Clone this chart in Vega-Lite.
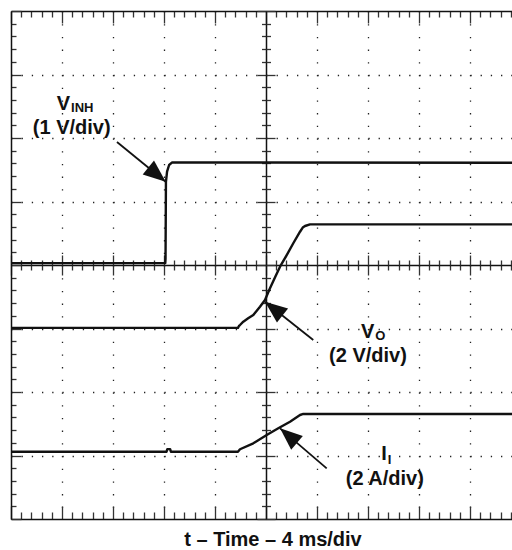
{
  "$schema": "https://vega.github.io/schema/vega-lite/v6.json",
  "width": 501,
  "height": 508,
  "autosize": "none",
  "padding": {"left": 11, "top": 11, "right": 0, "bottom": 31},
  "background": "white",
  "config": {
    "view": {"stroke": null},
    "axis": {
      "labels": false,
      "title": null,
      "grid": false,
      "domainColor": "#111",
      "domainWidth": 1.5,
      "tickColor": "#333",
      "tickWidth": 1.3
    }
  },
  "datasets": {
    "traces": [
      {"series": "VINH", "x": 0, "y": 4.03},
      {"series": "VINH", "x": 3.025, "y": 4.03},
      {"series": "VINH", "x": 3.03, "y": 4.1},
      {"series": "VINH", "x": 3.038, "y": 5.31},
      {"series": "VINH", "x": 3.06, "y": 5.47},
      {"series": "VINH", "x": 3.1, "y": 5.575},
      {"series": "VINH", "x": 3.16, "y": 5.615},
      {"series": "VINH", "x": 9.83, "y": 5.61},
      {"series": "VO", "x": 0, "y": 3.01},
      {"series": "VO", "x": 4.45, "y": 3.01},
      {"series": "VO", "x": 4.47, "y": 3.04},
      {"series": "VO", "x": 4.49, "y": 3.055},
      {"series": "VO", "x": 4.555, "y": 3.107},
      {"series": "VO", "x": 4.65, "y": 3.16},
      {"series": "VO", "x": 4.751, "y": 3.213},
      {"series": "VO", "x": 4.882, "y": 3.343},
      {"series": "VO", "x": 4.98, "y": 3.449},
      {"series": "VO", "x": 5.078, "y": 3.633},
      {"series": "VO", "x": 5.18, "y": 3.81},
      {"series": "VO", "x": 5.275, "y": 3.973},
      {"series": "VO", "x": 5.406, "y": 4.157},
      {"series": "VO", "x": 5.535, "y": 4.342},
      {"series": "VO", "x": 5.667, "y": 4.524},
      {"series": "VO", "x": 5.72, "y": 4.59},
      {"series": "VO", "x": 5.765, "y": 4.614},
      {"series": "VO", "x": 5.863, "y": 4.64},
      {"series": "VO", "x": 9.83, "y": 4.64},
      {"series": "II", "x": 0, "y": 1.06},
      {"series": "II", "x": 3.05, "y": 1.06},
      {"series": "II", "x": 3.065, "y": 1.1},
      {"series": "II", "x": 3.12, "y": 1.1},
      {"series": "II", "x": 3.135, "y": 1.06},
      {"series": "II", "x": 4.45, "y": 1.06},
      {"series": "II", "x": 4.49, "y": 1.098},
      {"series": "II", "x": 4.751, "y": 1.192},
      {"series": "II", "x": 5.014, "y": 1.323},
      {"series": "II", "x": 5.241, "y": 1.428},
      {"series": "II", "x": 5.471, "y": 1.532},
      {"series": "II", "x": 5.667, "y": 1.638},
      {"series": "II", "x": 5.731, "y": 1.654},
      {"series": "II", "x": 9.83, "y": 1.654}
    ],
    "arrows": [
      {"label": "VINH", "x": 2.078, "y": 5.937, "x2": 3.033, "y2": 5.312, "angle": 39.2},
      {"label": "VO", "x": 5.927, "y": 2.819, "x2": 4.98, "y2": 3.422, "angle": 218.4},
      {"label": "II", "x": 6.19, "y": 0.798, "x2": 5.275, "y2": 1.428, "angle": 220.6}
    ],
    "mainLetters": [
      {"text": "V", "x": 1.157, "y": 6.441},
      {"text": "V", "x": 7.124, "y": 2.85},
      {"text": "I", "x": 7.367, "y": 0.929}
    ],
    "subscripts": [
      {"text": "INH", "x": 1.177, "y": 6.402},
      {"text": "O", "x": 7.144, "y": 2.819},
      {"text": "I", "x": 7.387, "y": 0.866}
    ],
    "scales": [
      {"text": "(1 V/div)", "x": 1.19, "y": 6.063},
      {"text": "(2 V/div)", "x": 7.0, "y": 2.48},
      {"text": "(2 A/div)", "x": 7.33, "y": 0.543}
    ]
  },
  "layer": [
    {
      "data": {"name": "traces"},
      "mark": {"type": "line", "color": "#111", "strokeWidth": 2.4, "strokeJoin": "round"},
      "encoding": {
        "x": {"field": "x", "type": "quantitative", "scale": {"domain": [0, 9.8235], "nice": false, "zero": false},
          "axis": {"orient": "bottom", "offset": -508,
            "values": [0,0.2,0.4,0.6,0.8,1,1.2,1.4,1.6,1.8,2,2.2,2.4,2.6,2.8,3,3.2,3.4,3.6,3.8,4,4.2,4.4,4.6,4.8,5,5.2,5.4,5.6,5.8,6,6.2,6.4,6.6,6.8,7,7.2,7.4,7.6,7.8,8,8.2,8.4,8.6,8.8,9,9.2,9.4,9.6,9.8],
            "tickSize": {"condition": {"test": "round(datum.value) === datum.value", "value": 12}, "value": 6},
            "grid": true, "gridColor": "#222", "gridWidth": 1.3, "gridDash": [1.3, 11.4],
            "gridOpacity": {"condition": {"test": "round(datum.value) === datum.value && datum.value !== 0 && datum.value !== 5", "value": 1}, "value": 0}}},
        "y": {"field": "y", "type": "quantitative", "scale": {"domain": [0, 8], "nice": false, "zero": false},
          "axis": {"orient": "right", "offset": -501,
            "values": [0,0.2,0.4,0.6,0.8,1,1.2,1.4,1.6,1.8,2,2.2,2.4,2.6,2.8,3,3.2,3.4,3.6,3.8,4,4.2,4.4,4.6,4.8,5,5.2,5.4,5.6,5.8,6,6.2,6.4,6.6,6.8,7,7.2,7.4,7.6,7.8,8],
            "tickSize": {"condition": {"test": "round(datum.value) === datum.value", "value": 10}, "value": 5},
            "grid": true, "gridColor": "#222", "gridWidth": 1.3, "gridDash": [1.3, 8.9],
            "gridOpacity": {"condition": {"test": "round(datum.value) === datum.value && datum.value !== 0 && datum.value !== 4 && datum.value !== 8", "value": 1}, "value": 0}}},
        "detail": {"field": "series", "type": "nominal"}
      }
    },
    {
      "data": {"name": "arrows"},
      "mark": {"type": "rule", "color": "#111", "strokeWidth": 1.8},
      "encoding": {
        "x": {"field": "x", "type": "quantitative",
          "axis": {"orient": "top", "offset": -508,
            "values": [0,0.2,0.4,0.6,0.8,1,1.2,1.4,1.6,1.8,2,2.2,2.4,2.6,2.8,3,3.2,3.4,3.6,3.8,4,4.2,4.4,4.6,4.8,5,5.2,5.4,5.6,5.8,6,6.2,6.4,6.6,6.8,7,7.2,7.4,7.6,7.8,8,8.2,8.4,8.6,8.8,9,9.2,9.4,9.6,9.8],
            "tickSize": {"condition": {"test": "round(datum.value) === datum.value", "value": 13}, "value": 7}}},
        "y": {"field": "y", "type": "quantitative",
          "axis": {"orient": "left", "offset": -255,
            "values": [0,0.2,0.4,0.6,0.8,1,1.2,1.4,1.6,1.8,2,2.2,2.4,2.6,2.8,3,3.2,3.4,3.6,3.8,4,4.2,4.4,4.6,4.8,5,5.2,5.4,5.6,5.8,6,6.2,6.4,6.6,6.8,7,7.2,7.4,7.6,7.8,8],
            "tickSize": {"condition": {"test": "round(datum.value) === datum.value", "value": 9}, "value": 4.5}}},
        "x2": {"field": "x2"},
        "y2": {"field": "y2"}
      }
    },
    {
      "data": {"name": "arrows"},
      "mark": {"type": "point", "shape": "M0,0L-1,-0.4L-1,0.4Z", "filled": true, "color": "#111", "opacity": 1, "size": 2000},
      "encoding": {
        "x": {"field": "x2", "type": "quantitative",
          "axis": {"orient": "bottom", "offset": -254,
            "values": [0,0.2,0.4,0.6,0.8,1,1.2,1.4,1.6,1.8,2,2.2,2.4,2.6,2.8,3,3.2,3.4,3.6,3.8,4,4.2,4.4,4.6,4.8,5,5.2,5.4,5.6,5.8,6,6.2,6.4,6.6,6.8,7,7.2,7.4,7.6,7.8,8,8.2,8.4,8.6,8.8,9,9.2,9.4,9.6,9.8],
            "tickSize": {"condition": {"test": "round(datum.value) === datum.value", "value": 10}, "value": 5}}},
        "y": {"field": "y2", "type": "quantitative",
          "axis": {"orient": "right", "offset": -246, "domain": false,
            "values": [0,0.2,0.4,0.6,0.8,1,1.2,1.4,1.6,1.8,2,2.2,2.4,2.6,2.8,3,3.2,3.4,3.6,3.8,4,4.2,4.4,4.6,4.8,5,5.2,5.4,5.6,5.8,6,6.2,6.4,6.6,6.8,7,7.2,7.4,7.6,7.8,8],
            "tickSize": {"condition": {"test": "round(datum.value) === datum.value", "value": 9}, "value": 4.5}}},
        "angle": {"field": "angle", "type": "quantitative", "scale": null}
      }
    },
    {
      "data": {"name": "mainLetters"},
      "mark": {"type": "text", "align": "right", "baseline": "alphabetic", "font": "Liberation Sans", "fontSize": 20, "fontWeight": "bold", "color": "#111"},
      "encoding": {
        "x": {"field": "x", "type": "quantitative",
          "axis": {"orient": "top", "offset": -254, "domain": false,
            "values": [0,0.2,0.4,0.6,0.8,1,1.2,1.4,1.6,1.8,2,2.2,2.4,2.6,2.8,3,3.2,3.4,3.6,3.8,4,4.2,4.4,4.6,4.8,5,5.2,5.4,5.6,5.8,6,6.2,6.4,6.6,6.8,7,7.2,7.4,7.6,7.8,8,8.2,8.4,8.6,8.8,9,9.2,9.4,9.6,9.8],
            "tickSize": {"condition": {"test": "round(datum.value) === datum.value", "value": 10}, "value": 5}}},
        "y": {"field": "y", "type": "quantitative", "axis": null},
        "text": {"field": "text"}
      }
    },
    {
      "data": {"name": "subscripts"},
      "mark": {"type": "text", "align": "left", "baseline": "alphabetic", "font": "Liberation Sans", "fontSize": 13, "fontWeight": "bold", "color": "#111"},
      "encoding": {
        "x": {"field": "x", "type": "quantitative",
          "axis": {"orient": "bottom", "offset": 0, "domain": false, "ticks": false,
            "title": "t – Time – 4 ms/div", "titleFont": "Liberation Sans", "titleFontSize": 20, "titleFontWeight": "bold", "titleColor": "#111",
            "titleX": 261.5, "titleY": 26, "titleAlign": "center", "titleBaseline": "alphabetic"}},
        "y": {"field": "y", "type": "quantitative", "axis": null},
        "text": {"field": "text"}
      }
    },
    {
      "data": {"name": "scales"},
      "mark": {"type": "text", "align": "center", "baseline": "alphabetic", "font": "Liberation Sans", "fontSize": 20, "fontWeight": "bold", "color": "#111"},
      "encoding": {
        "x": {"field": "x", "type": "quantitative", "axis": null},
        "y": {"field": "y", "type": "quantitative", "axis": null},
        "text": {"field": "text"}
      }
    }
  ],
  "resolve": {"axis": {"x": "independent", "y": "independent"}}
}
